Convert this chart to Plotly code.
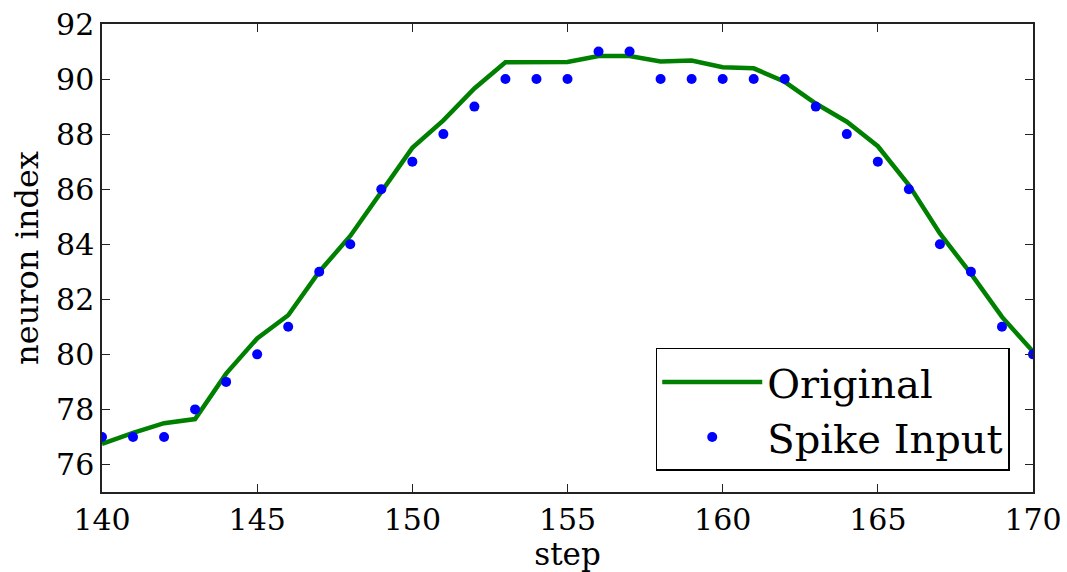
import plotly.graph_objects as go

steps = list(range(140, 171))
original = [76.75, 77.15, 77.5, 77.65, 79.3, 80.58, 81.42, 83.0, 84.3, 85.9,
            87.5, 88.5, 89.66, 90.61, 90.61, 90.62, 90.84, 90.84, 90.64, 90.67,
            90.43, 90.39, 89.9, 89.11, 88.45, 87.56, 86.15, 84.39, 82.93, 81.36, 80.1]
spike = [77, 77, 77, 78, 79, 80, 81, 83, 84, 86,
         87, 88, 89, 90, 90, 90, 91, 91, 90, 90,
         90, 90, 90, 89, 88, 87, 86, 84, 83, 81, 80]
x_ticks = [140, 145, 150, 155, 160, 165, 170]
y_ticks = [76, 78, 80, 82, 84, 86, 88, 90, 92]

font = "DejaVu Serif"
fig = go.Figure()
fig.add_trace(go.Scatter(x=steps, y=original, mode="lines", name="Original",
                         line=dict(color="green", width=4.5)))
fig.add_trace(go.Scatter(x=steps, y=spike, mode="markers", name="Spike Input",
                         marker=dict(color="blue", size=10, line=dict(width=0))))

axis_common = dict(showline=True, linecolor="#222", linewidth=1.5, mirror="ticks",
                   ticks="inside", ticklen=8, tickwidth=1, tickcolor="#222",
                   showgrid=False, zeroline=False, automargin=False,
                   tickfont=dict(family=font, size=30, color="black"))
fig.update_xaxes(range=[140, 170], tickvals=x_ticks,
                 title=dict(text="step", font=dict(family=font, size=31, color="black"), standoff=6),
                 **axis_common)
fig.update_yaxes(range=[75, 92], tickvals=y_ticks,
                 title=dict(text="neuron index", font=dict(family=font, size=32, color="black"), standoff=8),
                 **axis_common)
fig.update_layout(
    width=1067, height=572,
    margin=dict(l=102, r=34, t=24, b=80),
    plot_bgcolor="white", paper_bgcolor="white",
    showlegend=True,
    legend=dict(x=0.975, y=0.045, xanchor="right", yanchor="bottom",
                bordercolor="black", borderwidth=1.5, bgcolor="white",
                font=dict(family=font, size=40, color="black"),
                itemwidth=100),
)
fig.write_html("out.html")
